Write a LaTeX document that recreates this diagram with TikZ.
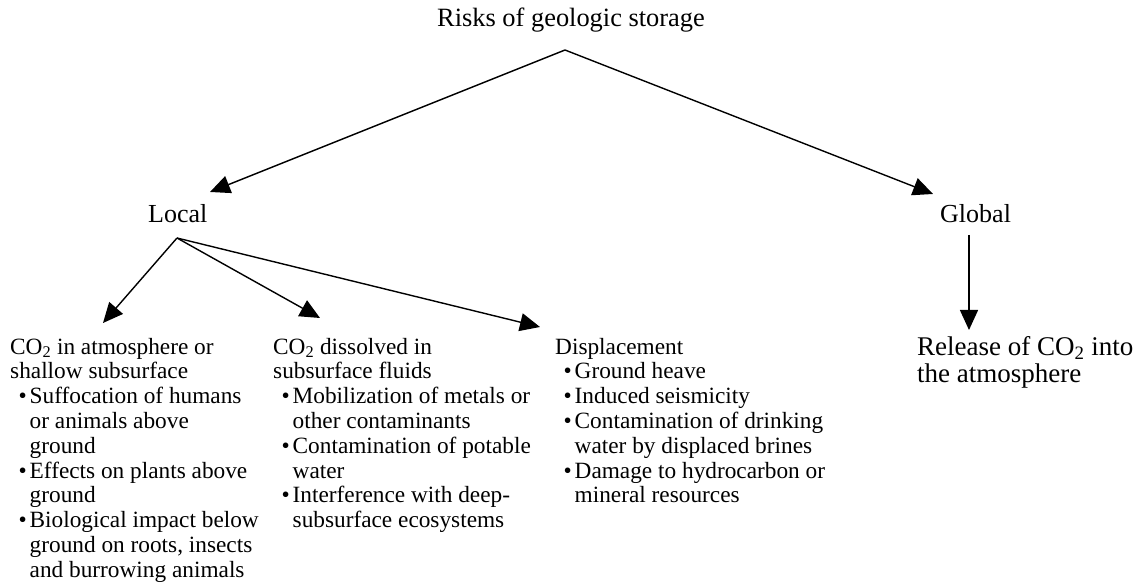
\documentclass[tikz,border=0pt]{standalone}
\usepackage{fontspec}
\setmainfont{Liberation Serif}
\usetikzlibrary{arrows.meta}
\newcommand\bitem{\hspace*{8.5pt}\makebox[11pt][l]{\textbullet}}
\newcommand\bcont{\hspace*{19.5pt}}
\begin{document}
\begin{tikzpicture}[x=1pt,y=1pt,
  conn/.style={line width=1.4pt, -{Triangle[length=20pt,width=18pt]}},
  lbl/.style={inner sep=0pt, anchor=base west},
  blk/.style={inner sep=0pt, anchor=north west, align=left, font=\fontsize{23.3}{24.8}\selectfont}]
\useasboundingbox (0,0) rectangle (1133,584);
% top level
\node[lbl, font=\fontsize{26.4}{28}\selectfont] (risk) at (437,557) {Risks of geologic storage};
\node[lbl, font=\fontsize{26}{28}\selectfont] (local) at (148,361) {Local};
\node[lbl, font=\fontsize{26}{28}\selectfont] (global) at (940,361) {Global};
\coordinate (top) at (565,534);
\coordinate (ltip) at (210,392);
\coordinate (gtip) at (933,390);
\coordinate (lapex) at (177,346);
\coordinate (gstart) at (969,349);
\coordinate (gend) at (969,254);
% blocks
\node[blk] (b1) at (10,247.4) {\strut CO\textsubscript{2} in atmosphere or\\
shallow subsurface\\
\bitem Suffocation of humans\\
\bcont or animals above\\
\bcont ground\\
\bitem Effects on plants above\\
\bcont ground\\
\bitem Biological impact below\\
\bcont ground on roots, insects\\
\bcont and burrowing animals};
\node[blk] (b2) at (273,247.4) {\strut CO\textsubscript{2} dissolved in\\
subsurface fluids\\
\bitem Mobilization of metals or\\
\bcont other contaminants\\
\bitem Contamination of potable\\
\bcont water\\
\bitem Interference with deep-\\
\bcont subsurface ecosystems};
\node[blk] (b3) at (555,247.4) {\strut Displacement\\
\bitem Ground heave\\
\bitem Induced seismicity\\
\bitem Contamination of drinking\\
\bcont water by displaced brines\\
\bitem Damage to hydrocarbon or\\
\bcont mineral resources};
\node[blk, font=\fontsize{27}{27}\selectfont] (b4) at (917,248) {\strut Release of CO\textsubscript{2} into\\
the atmosphere};
\coordinate (t1) at (103,261);
\coordinate (t2) at (320,266);
\coordinate (t3) at (540,257);
% connectors
\draw[conn] (top) -- (ltip);
\draw[conn] (top) -- (gtip);
\draw[conn] (lapex) -- (t1);
\draw[conn] (lapex) -- (t2);
\draw[conn] (lapex) -- (t3);
\draw[conn] (gstart) -- (gend);
\end{tikzpicture}
\end{document}
